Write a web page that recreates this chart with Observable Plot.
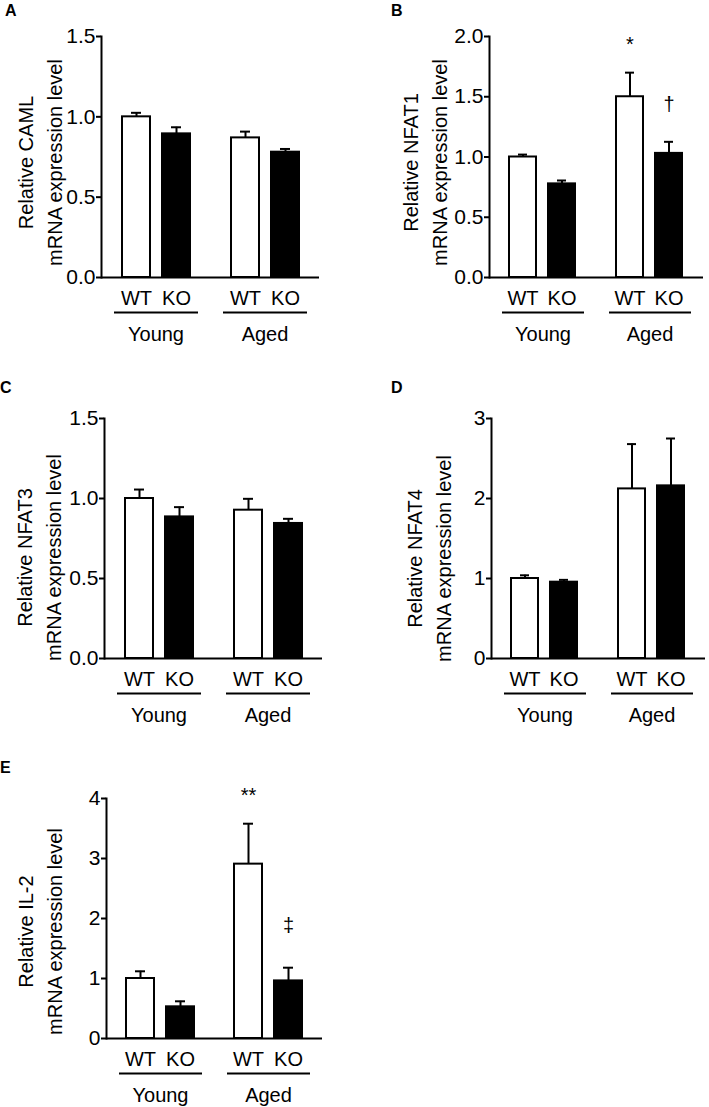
<!DOCTYPE html>
<html><head><meta charset="utf-8">
<script src="https://cdn.jsdelivr.net/npm/d3@7"></script>
<script src="https://cdn.jsdelivr.net/npm/@observablehq/plot@0.6"></script>
<style>
body{margin:0;background:#fff;}
#fig{position:relative;width:709px;height:1107px;font-family:"Liberation Sans",Arial,sans-serif;background:#fff;}
.panel{position:absolute;}
.letter{position:absolute;font-weight:bold;font-size:16px;line-height:16px;color:#000;}
</style></head><body><div id="fig"></div>
<script>
// Categories
const groups = ["Young", "Aged"];
const genotypes = ["WT", "KO"];
// bar order: Young WT, Young KO, Aged WT, Aged KO
const camlMean  = [1.00, 0.894, 0.869, 0.780];
const camlErr   = [0.025, 0.041, 0.039, 0.020];
const nfat1Mean = [1.00, 0.777, 1.500, 1.030];
const nfat1Err  = [0.020, 0.028, 0.200, 0.096];
const nfat3Mean = [1.00, 0.885, 0.927, 0.844];
const nfat3Err  = [0.056, 0.061, 0.071, 0.029];
const nfat4Mean = [1.00, 0.954, 2.120, 2.158];
const nfat4Err  = [0.040, 0.029, 0.560, 0.592];
const il2Mean   = [1.00, 0.528, 2.906, 0.960];
const il2Err    = [0.120, 0.092, 0.674, 0.220];
// Y tick labels
const ticksHalf = [0, 0.5, 1.0, 1.5];
const ticksB = [0, 0.5, 1.0, 1.5, 2.0];
const ticksD = [0, 1, 2, 3];
const ticksE = [0, 1, 2, 3, 4];
// significance marks: group, genotype, level (data units), label
const notesB = [
  {group: "Aged", geno: "WT", level: 1.934, label: "*"},
  {group: "Aged", geno: "KO", level: 1.432, label: "\u2020"}
];
const notesE = [
  {group: "Aged", geno: "WT", level: 4.045, label: "**"},
  {group: "Aged", geno: "KO", level: 1.884, label: "\u2021"}
];

const FONT = "'Liberation Sans', Arial, sans-serif";

function makePanel(cfg) {
  const rows = cfg.mean.map((m, i) => ({group: groups[i >> 1], geno: genotypes[i % 2], mean: m, top: m + cfg.err[i]}));
  const L = cfg.layout;
  return Plot.plot({
    width: L.width, height: L.height,
    marginLeft: L.mL, marginRight: L.mR, marginTop: L.mT, marginBottom: L.mB,
    style: {fontFamily: FONT, fontSize: "20px", color: "black", background: "white", overflow: "visible"},
    fx: {domain: groups, padding: 0},
    x: {domain: genotypes, paddingInner: 0.3, paddingOuter: 0.5},
    y: {domain: cfg.domain},
    color: {domain: genotypes, range: ["white", "black"]},
    marks: [
      Plot.ruleX(rows, {fx: "group", x: "geno", y1: "mean", y2: "top", stroke: "black", strokeWidth: 2}),
      Plot.tickY(rows, {fx: "group", x: "geno", y: "top", stroke: "black", strokeWidth: 2, insetLeft: 9, insetRight: 9}),
      Plot.barY(rows, {fx: "group", x: "geno", y: "mean", fill: "geno", stroke: "black", strokeWidth: 2}),
      Plot.ruleY([0], {stroke: "black", strokeWidth: 2}),
      Plot.ruleY([0], {dy: 35, insetLeft: 13, insetRight: 12, stroke: "black", strokeWidth: 2}),
      Plot.frame({anchor: "left", fx: "Young", stroke: "black", strokeWidth: 2}),
      Plot.axisY({ticks: cfg.ticks, tickFormat: cfg.fmt, tickSize: 5, tickPadding: 1, strokeWidth: 2, label: null, fontSize: 21}),
      Plot.axisX({tickSize: 0, tickPadding: 13, label: null, fontSize: 20}),
      Plot.axisFx({anchor: "bottom", tickSize: 0, tickPadding: 49, label: null, fontSize: 20}),
      Plot.text([cfg.yLabel], {fx: () => "Young", frameAnchor: "left", textAnchor: "middle", lineAnchor: "middle", rotate: -90, dx: L.ldx, dy: L.ldy, lineHeight: 1.42, fontSize: 20, fill: "black"}),
      Plot.text(cfg.notes || [], {fx: "group", x: "geno", y: "level", text: "label", fontSize: 20, fill: "black"})
    ]
  });
}

const panels = [
  {letter: "A", lx: 5, ly: 3, left: 0, top: 0, mean: camlMean, err: camlErr, domain: [0, 1.5], ticks: ticksHalf, fmt: ".1f",
   yLabel: "Relative CAML\nmRNA expression level",
   layout: {width: 330, height: 345, mL: 100, mR: 11, mT: 36, mB: 68, ldx: -63, ldy: 5.5}},
  {letter: "B", lx: 391, ly: 3, left: 354, top: 0, mean: nfat1Mean, err: nfat1Err, domain: [0, 2], ticks: ticksB, fmt: ".1f",
   yLabel: "Relative NFAT1\nmRNA expression level", notes: notesB,
   layout: {width: 355, height: 345, mL: 134, mR: 6, mT: 36, mB: 68, ldx: -66, ldy: 5.5}},
  {letter: "C", lx: 0, ly: 380, left: 0, top: 380, mean: nfat3Mean, err: nfat3Err, domain: [0, 1.5], ticks: ticksHalf, fmt: ".1f",
   yLabel: "Relative NFAT3\nmRNA expression level",
   layout: {width: 330, height: 345, mL: 104, mR: 8, mT: 38, mB: 67, ldx: -67, ldy: 19}},
  {letter: "D", lx: 391, ly: 380, left: 354, top: 380, mean: nfat4Mean, err: nfat4Err, domain: [0, 3], ticks: ticksD, fmt: "d",
   yLabel: "Relative NFAT4\nmRNA expression level",
   layout: {width: 355, height: 345, mL: 136, mR: 4, mT: 38, mB: 67, ldx: -64, ldy: 20}},
  {letter: "E", lx: 0, ly: 760, left: 0, top: 762, mean: il2Mean, err: il2Err, domain: [0, 4], ticks: ticksE, fmt: "d",
   yLabel: "Relative IL-2\nmRNA expression level", notes: notesE,
   layout: {width: 330, height: 345, mL: 105, mR: 8, mT: 36, mB: 69, ldx: -68, ldy: 13}}
];

const fig = document.getElementById("fig");
for (const p of panels) {
  const holder = document.createElement("div");
  holder.className = "panel";
  holder.style.left = p.left + "px";
  holder.style.top = p.top + "px";
  holder.appendChild(makePanel(p));
  fig.appendChild(holder);
  const lab = document.createElement("div");
  lab.className = "letter";
  lab.style.left = p.lx + "px";
  lab.style.top = p.ly + "px";
  lab.textContent = p.letter;
  fig.appendChild(lab);
}
</script></body></html>
